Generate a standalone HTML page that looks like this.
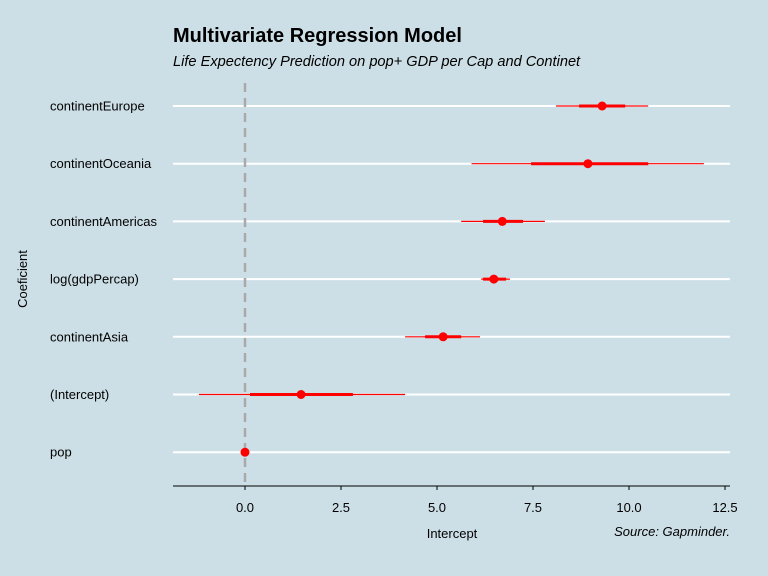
<!DOCTYPE html>
<html><head><meta charset="utf-8"><style>
body{margin:0;background:#cddfe6;}
svg{display:block;font-family:"Liberation Sans",sans-serif;}
</style></head><body>
<svg width="768" height="576" id="c">
<rect width="768" height="576" fill="#cddfe6"/>
<text x="173" y="42" font-size="20" font-weight="bold" fill="#000">Multivariate Regression Model</text>
<text x="173" y="66" font-size="14.6" font-style="italic" fill="#000">Life Expectency Prediction on pop+ GDP per Cap and Continet</text>
<text x="452" y="538" font-size="13" text-anchor="middle">Intercept</text>
<text x="730" y="536" font-size="13" font-style="italic" text-anchor="end">Source: Gapminder.</text>
<text transform="translate(27,279) rotate(-90)" font-size="13" text-anchor="middle">Coeficient</text>
<line x1="173" x2="730" y1="486" y2="486" stroke="#000" stroke-width="1"/>
<g id="g"></g>
</svg>
<script>
const terms=["continentEurope","continentOceania","continentAmericas","log(gdpPercap)","continentAsia","(Intercept)","pop"];
const est=[9.3,8.93,6.7,6.48,5.16,1.46,0];
const lo95=[8.1,5.9,5.63,6.15,4.17,-1.2,0];
const hi95=[10.5,11.95,7.81,6.9,6.12,4.17,0];
const lo50=[8.7,7.45,6.2,6.2,4.69,0.13,0];
const hi50=[9.9,10.5,7.24,6.8,5.63,2.81,0];
const ticks=[0,2.5,5,7.5,10,12.5];
const tickLabels=["0.0","2.5","5.0","7.5","10.0","12.5"];
const X=v=>245+v*38.4;
const Y=i=>106+i*57.7;
const g=document.getElementById('g');
const NS="http://www.w3.org/2000/svg";
function mk(t,a){const e=document.createElementNS(NS,t);for(const k in a)e.setAttribute(k,a[k]);g.appendChild(e);return e;}
terms.forEach((t,i)=>{
 let e=mk('line',{x1:173,x2:730,y1:Y(i),y2:Y(i),stroke:'#fff','stroke-width':2});
 
 
 e=mk('text',{x:50,y:Y(i)+4.5,'font-size':13,fill:'#000'});e.textContent=t;
 
 
});
let z=mk('line',{x1:X(0),x2:X(0),y1:83,y2:486,stroke:'#a9a9a9','stroke-width':2.5,'stroke-dasharray':'9,6'});


ticks.forEach((v,i)=>{
 let e=mk('line',{x1:X(v),x2:X(v),y1:486,y2:490,stroke:'#000'});
 
 
 e=mk('text',{x:X(v),y:512,'font-size':13,'text-anchor':'middle'});e.textContent=tickLabels[i];
 
 
});
terms.forEach((t,i)=>{
 let e=mk('line',{x1:X(lo95[i]),x2:X(hi95[i]),y1:Y(i),y2:Y(i),stroke:'#f00','stroke-width':1.2});
 
 
 e=mk('line',{x1:X(lo50[i]),x2:X(hi50[i]),y1:Y(i),y2:Y(i),stroke:'#f00','stroke-width':3});
 
 
 e=mk('circle',{cx:X(est[i]),cy:Y(i),r:4.5,fill:'#f00'});
 
 
});
</script>
</body></html>
